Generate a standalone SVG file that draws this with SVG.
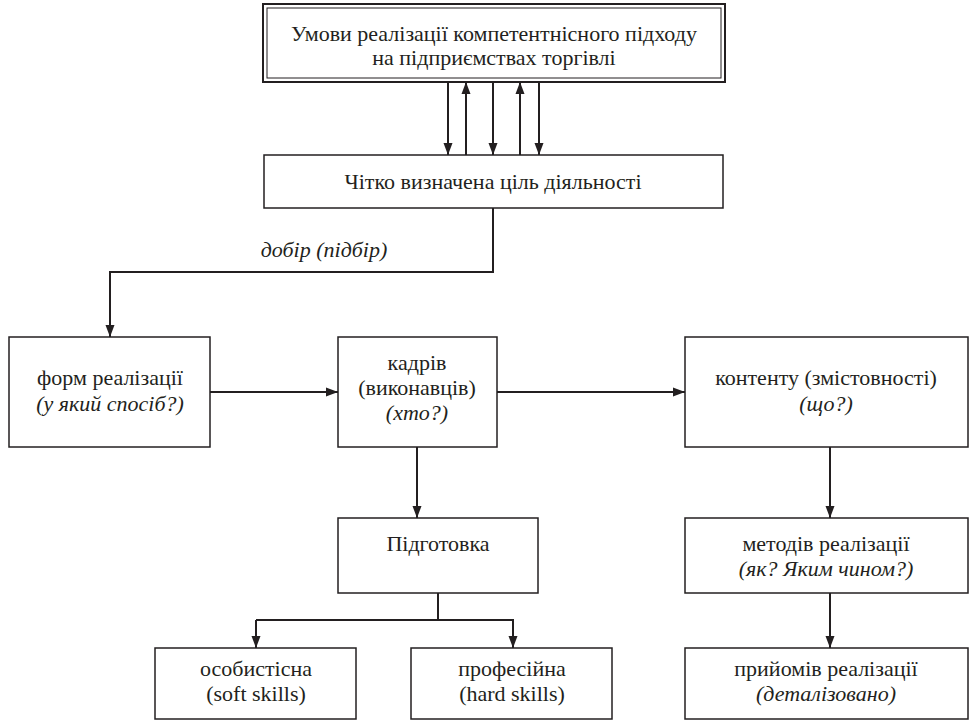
<svg xmlns="http://www.w3.org/2000/svg" width="969" height="722" viewBox="0 0 969 722">
<style>
.box{fill:#fff;stroke:#231f20;stroke-width:1.5}
.t{font-family:"Liberation Serif",serif;font-size:22px;fill:#231f20;text-anchor:middle}
.i{font-style:italic}
.c{fill:none;stroke:#231f20;stroke-width:2}
</style>
<defs>
<marker id="ah" viewBox="0 0 12 10" refX="12" refY="5" markerWidth="12" markerHeight="10" markerUnits="userSpaceOnUse" orient="auto">
<path d="M0,0.5 L12,5 L0,9.5 Z" fill="#231f20"/>
</marker>
</defs>
<rect width="969" height="722" fill="#fff"/>
<g id="connectors">
<line class="c" x1="448" y1="82" x2="448" y2="155" marker-end="url(#ah)"/>
<line class="c" x1="466" y1="155" x2="466" y2="82" marker-end="url(#ah)"/>
<line class="c" x1="493" y1="82" x2="493" y2="155" marker-end="url(#ah)"/>
<line class="c" x1="520" y1="155" x2="520" y2="82" marker-end="url(#ah)"/>
<line class="c" x1="539" y1="82" x2="539" y2="155" marker-end="url(#ah)"/>
<polyline class="c" points="493,208 493,272 110,272 110,337" marker-end="url(#ah)"/>
<line class="c" x1="210" y1="392" x2="338" y2="392" marker-end="url(#ah)"/>
<line class="c" x1="497" y1="392" x2="685" y2="392" marker-end="url(#ah)"/>
<line class="c" x1="417" y1="447" x2="417" y2="518" marker-end="url(#ah)"/>
<line class="c" x1="438" y1="593" x2="438" y2="620"/>
<polyline class="c" points="256,620 513,620 513,648" marker-end="url(#ah)"/>
<line class="c" x1="256" y1="620" x2="256" y2="648" marker-end="url(#ah)"/>
<line class="c" x1="830" y1="447" x2="830" y2="518" marker-end="url(#ah)"/>
<line class="c" x1="830" y1="593" x2="830" y2="648" marker-end="url(#ah)"/>
<text class="t i" x="324" y="257">добір (підбір)</text>
</g>
<g id="top">
<rect x="263" y="4" width="462" height="78" fill="#fff" stroke="#231f20" stroke-width="2"/>
<rect x="267" y="8" width="454" height="70" fill="none" stroke="#231f20" stroke-width="1"/>
<text class="t" x="494" y="41">Умови реалізації компетентнісного підходу</text>
<text class="t" x="494" y="65">на підприємствах торгівлі</text>
</g>
<g id="goal">
<rect class="box" x="264" y="155" width="459" height="53"/>
<text class="t" x="493" y="189">Чітко визначена ціль діяльності</text>
</g>
<g id="forms">
<rect class="box" x="9" y="337" width="201" height="110"/>
<text class="t" x="110" y="385">форм реалізації</text>
<text class="t i" x="110" y="411">(у який спосіб?)</text>
</g>
<g id="staff">
<rect class="box" x="338" y="337" width="159" height="110"/>
<text class="t" x="417" y="370">кадрів</text>
<text class="t" x="417" y="395">(виконавців)</text>
<text class="t i" x="417" y="420">(хто?)</text>
</g>
<g id="content">
<rect class="box" x="685" y="337" width="283" height="110"/>
<text class="t" x="826" y="385">контенту (змістовності)</text>
<text class="t i" x="826" y="411">(що?)</text>
</g>
<g id="training">
<rect class="box" x="338" y="518" width="200" height="75"/>
<text class="t" x="438" y="551">Підготовка</text>
</g>
<g id="methods">
<rect class="box" x="685" y="518" width="283" height="75"/>
<text class="t" x="826" y="551">методів реалізації</text>
<text class="t i" x="826" y="576">(як? Яким чином?)</text>
</g>
<g id="soft">
<rect class="box" x="155" y="648" width="201" height="71"/>
<text class="t" x="256" y="676">особистісна</text>
<text class="t" x="256" y="701">(soft skills)</text>
</g>
<g id="hard">
<rect class="box" x="411" y="648" width="201" height="71"/>
<text class="t" x="512" y="676">професійна</text>
<text class="t" x="512" y="701">(hard skills)</text>
</g>
<g id="techniques">
<rect class="box" x="685" y="648" width="283" height="71"/>
<text class="t" x="826" y="676">прийомів реалізації</text>
<text class="t i" x="826" y="701">(деталізовано)</text>
</g>
</svg>
